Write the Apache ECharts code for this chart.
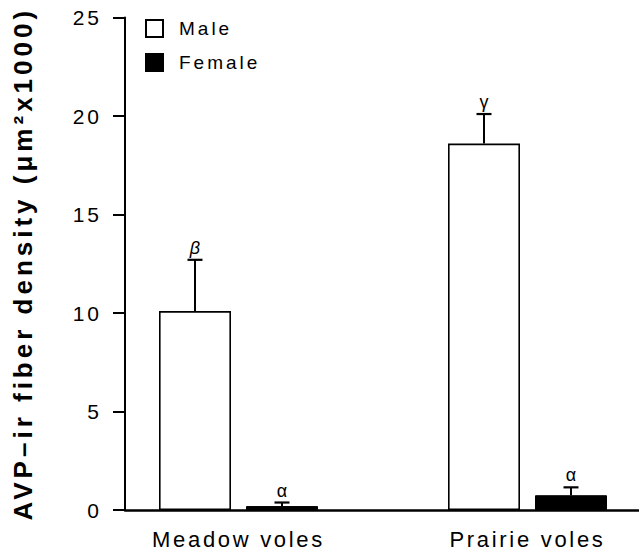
<!DOCTYPE html>
<html>
<head>
<meta charset="utf-8">
<script src="https://cdn.jsdelivr.net/npm/echarts@6/dist/echarts.min.js"></script>
<style>
  html, body { margin: 0; padding: 0; background: #fff; }
  #chart { width: 639px; height: 554px; }
  text[style*="26px"] { letter-spacing: 4px; }
  text[style*="22px"] { letter-spacing: 2.7px; }
  text[style*="19px"] { letter-spacing: 3px; }
  text[style*="21px"] { letter-spacing: 3px; }
</style>
</head>
<body>
<div id="chart"></div>
<script>
// ---- data ----
const categories = ['Meadow voles', 'Prairie voles'];
const seriesNames = ['Male', 'Female'];
const maleMeans = [10.1, 18.6];
const maleErr = [2.6, 1.5];
const femaleMeans = [0.2, 0.75];
const femaleErr = [0.18, 0.4];
const maleLabels = ['β', 'γ'];
const femaleLabels = ['α', 'α'];
const yMin = 0, yMax = 25, yStep = 5;
const yTitle = 'AVP–ir fiber density (μm²x1000)';

// ---- style constants ----
const FONT = '"Liberation Sans", Arial, Helvetica, sans-serif';
const BAR_W = 72;
const BAR_GAP_PX = 15;
const HALF_SHIFT = (BAR_W + BAR_GAP_PX) / 2;

function errRenderer(sign, errs, labels) {
  return function (params, api) {
    const cat = api.value(0);
    const val = api.value(1);
    const i = params.dataIndex;
    const base = api.coord([cat, val]);
    const top = api.coord([cat, val + errs[i]]);
    const x = base[0] + sign * HALF_SHIFT;
    const lab = labels[i];
    return {
      type: 'group',
      children: [
        { type: 'line', shape: { x1: x, y1: base[1], x2: x, y2: top[1] },
          style: { stroke: '#000', lineWidth: 2 } },
        { type: 'line', shape: { x1: x - 7.5, y1: top[1], x2: x + 7.5, y2: top[1] },
          style: { stroke: '#000', lineWidth: 2.2 } },
        { type: 'text',
          style: { text: lab, x: x, y: top[1] - 3, textAlign: 'center', textVerticalAlign: 'bottom',
                   fontSize: 18, fontFamily: FONT, fontStyle: lab === 'β' ? 'italic' : 'normal',
                   fill: '#000' } }
      ]
    };
  };
}

const chart = echarts.init(document.getElementById('chart'), null, { renderer: 'svg' });
chart.setOption({
  animation: false,
  backgroundColor: '#fff',
  textStyle: { fontFamily: FONT, color: '#000' },
  grid: [
    { left: 94, width: 578, top: 17.5, bottom: 44, outerBoundsMode: 'none' },
    { left: 125, right: 0, top: 17.5, bottom: 44, outerBoundsMode: 'none' }
  ],
  legend: {
    data: seriesNames,
    orient: 'vertical',
    left: 140,
    top: 14,
    icon: 'rect',
    itemWidth: 17,
    itemHeight: 17,
    itemGap: 15,
    textStyle: { fontSize: 19, color: '#000', fontFamily: FONT, padding: [0, 0, 0, 11] }
  },
  xAxis: [
    {
      type: 'category', gridIndex: 0, data: categories,
      axisLine: { show: false }, axisTick: { show: false },
      axisLabel: { fontSize: 22, color: '#000', margin: 18, fontFamily: FONT }
    },
    {
      type: 'value', gridIndex: 1, min: 0, max: 1,
      axisLine: { show: true, lineStyle: { color: '#000', width: 2.5 } },
      axisTick: { show: false }, axisLabel: { show: false }, splitLine: { show: false }
    }
  ],
  yAxis: [
    {
      type: 'value', gridIndex: 0, min: yMin, max: yMax, interval: yStep, offset: -31,
      axisLine: { show: true, lineStyle: { color: '#000', width: 2 } },
      axisTick: { show: true, length: 12, lineStyle: { color: '#000', width: 2 } },
      axisLabel: { fontSize: 21, color: '#000', margin: 23, fontFamily: FONT },
      splitLine: { show: false },
      name: yTitle, nameLocation: 'middle', nameGap: 89,
      nameTextStyle: { fontSize: 26, fontWeight: 'bold', color: '#000', fontFamily: FONT }
    },
    { type: 'value', gridIndex: 1, show: false, min: 0, max: 1 }
  ],
  series: [
    {
      name: 'Male', type: 'bar', data: maleMeans, barWidth: BAR_W,
      barGap: (BAR_GAP_PX / BAR_W * 100) + '%',
      itemStyle: { color: '#fff', borderColor: '#000', borderWidth: 1.6 }
    },
    {
      name: 'Female', type: 'bar', data: femaleMeans, barWidth: BAR_W,
      itemStyle: { color: '#000', borderColor: '#000', borderWidth: 1 }
    },
    {
      name: 'Male error', type: 'custom', z: 5,
      renderItem: errRenderer(-1, maleErr, maleLabels),
      data: maleMeans.map((v, i) => [i, v])
    },
    {
      name: 'Female error', type: 'custom', z: 5,
      renderItem: errRenderer(1, femaleErr, femaleLabels),
      data: femaleMeans.map((v, i) => [i, v])
    }
  ]
});
</script>
</body>
</html>
